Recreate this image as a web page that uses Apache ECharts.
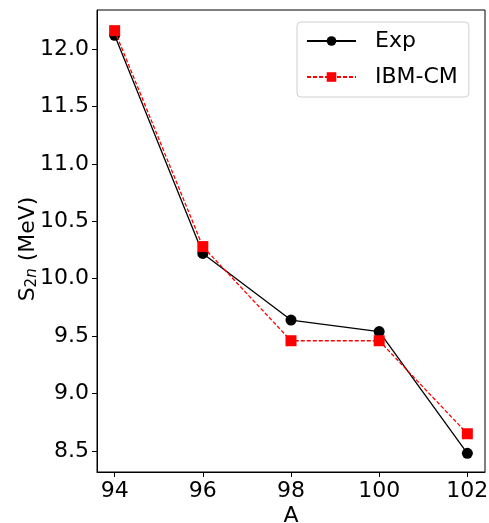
<!DOCTYPE html>
<html>
<head>
<meta charset="utf-8">
<script src="https://cdn.jsdelivr.net/npm/echarts@6/dist/echarts.min.js"></script>
<style>
  html, body { margin: 0; padding: 0; background: #fff; }
  #chart { width: 489px; height: 523px; }
</style>
</head>
<body>
<div id="chart"></div>
<script>
// Mass numbers of the isotopes
const massNumbers = [94, 96, 98, 100, 102];
// Two-neutron separation energies (MeV)
const expValues = [12.12, 10.22, 9.64, 9.54, 8.48];
const ibmValues = [12.16, 10.28, 9.46, 9.46, 8.65];
// Tick labels
const xTicks = [94, 96, 98, 100, 102];
const yTicks = [8.5, 9.0, 9.5, 10.0, 10.5, 11.0, 11.5, 12.0];

const font = 'DejaVu Sans';
const fs = 22;
const chart = echarts.init(document.getElementById('chart'));

chart.setOption({
  animation: false,
  backgroundColor: '#fff',
  textStyle: { fontFamily: font },
  grid: {
    left: 97, right: 4, top: 10, bottom: 51,
    outerBoundsMode: 'none',
    containLabel: false,
    show: true, borderColor: '#000', borderWidth: 1
  },
  legend: {
    left: 297, top: 22,
    orient: 'vertical',
    padding: [8, 11, 9, 9],
    itemGap: 14,
    itemWidth: 49, itemHeight: 12,
    backgroundColor: 'rgba(255,255,255,0.8)',
    borderColor: '#d0d0d0', borderWidth: 1, borderRadius: 4,
    textStyle: { fontFamily: font, fontSize: fs, color: '#000', padding: [0, 0, 0, 14] },
    data: ['Exp', 'IBM-CM']
  },
  xAxis: {
    type: 'value',
    min: 93.6, max: 102.4,
    name: 'A',
    nameLocation: 'middle',
    nameGap: 33,
    nameMoveOverlap: false,
    nameTextStyle: { fontFamily: font, fontSize: fs, color: '#000' },
    axisLine: { show: true, lineStyle: { color: '#000', width: 1 } },
    axisTick: { show: true, length: 5, customValues: xTicks, lineStyle: { color: '#000' } },
    axisLabel: { customValues: xTicks, fontFamily: font, fontSize: fs, color: '#000', margin: 8 },
    splitLine: { show: false }
  },
  yAxis: {
    type: 'value',
    min: 8.317, max: 12.34,
    name: '{a|S}{sub|2}{subi|n}{a| (MeV)}',
    nameLocation: 'middle',
    nameRotate: 90,
    nameGap: 57,
    nameMoveOverlap: false,
    nameTextStyle: {
      padding: [0, 16, 0, 0],
      rich: {
        a: { fontFamily: font, fontSize: fs, color: '#000' },
        sub: { fontFamily: font, fontSize: 15, color: '#000', verticalAlign: 'bottom', padding: [9, 0, 0, 0] },
        subi: { fontFamily: font, fontSize: 15, fontStyle: 'italic', color: '#000', verticalAlign: 'bottom', padding: [9, 0, 0, 0] }
      }
    },
    axisLine: { show: true, lineStyle: { color: '#000', width: 1 } },
    axisTick: { show: true, length: 5, customValues: yTicks, lineStyle: { color: '#000' } },
    axisLabel: {
      customValues: yTicks,
      fontFamily: font, fontSize: fs, color: '#000', margin: 8,
      formatter: v => v.toFixed(1)
    },
    splitLine: { show: false }
  },
  series: [
    {
      name: 'Exp',
      type: 'line',
      data: massNumbers.map((a, i) => [a, expValues[i]]),
      symbol: 'circle',
      symbolSize: 11,
      itemStyle: { color: '#000' },
      lineStyle: { color: '#000', width: 1.3 },
      z: 2
    },
    {
      name: 'IBM-CM',
      type: 'line',
      data: massNumbers.map((a, i) => [a, ibmValues[i]]),
      symbol: 'rect',
      symbolSize: 11,
      itemStyle: { color: '#ff0000' },
      lineStyle: { color: '#ff0000', width: 1.3, type: [4, 2] },
      z: 3
    }
  ]
});
</script>
</body>
</html>
